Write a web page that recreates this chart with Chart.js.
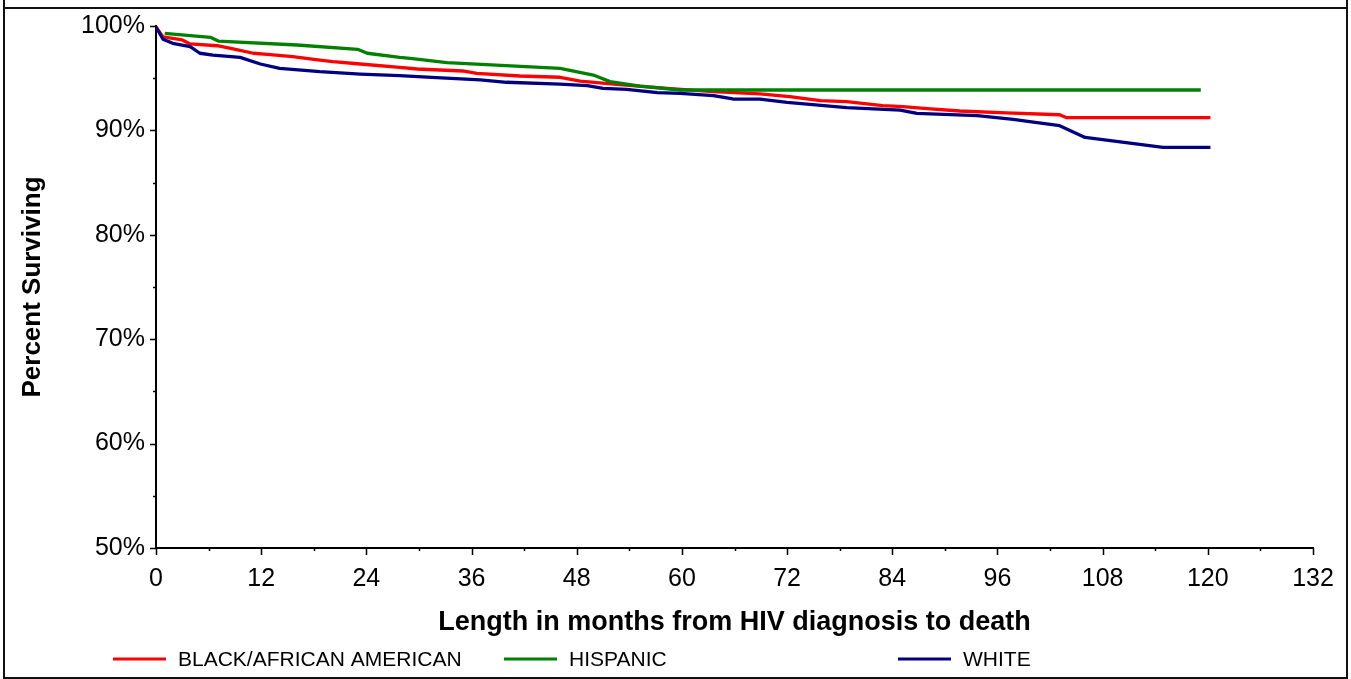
<!DOCTYPE html>
<html>
<head>
<meta charset="utf-8">
<script src="https://cdn.jsdelivr.net/npm/chart.js@4.4.1/dist/chart.umd.min.js"></script>
<style>
  html, body { margin: 0; padding: 0; background: #fff; }
  #wrap { width: 1351px; height: 679px; }
</style>
</head>
<body>
<div id="wrap"><canvas id="kmChart" width="1351" height="679"></canvas></div>
<script>
      const seriesLabels = ['BLACK/AFRICAN AMERICAN', 'HISPANIC', 'WHITE'];
      const seriesColors = ['#ff0000', '#008000', '#000080'];

      const monthsBlack = [0, 0.8, 3.0, 3.9, 7.0, 8.8, 11.1, 12.7, 15.6, 18.7, 20.2, 23.3, 27.8, 29.8, 35, 36.6,
        41.5, 46.1, 48.4, 52.2, 58.3, 63.6, 68.9, 72.3, 75.8, 78.8, 82.9, 85.2, 88, 91.7, 97, 103.1, 103.9, 120.3];
      const survBlack = [99.9, 98.95, 98.66, 98.28, 98.11, 97.8, 97.39, 97.29, 97.06, 96.74, 96.58, 96.36, 96.04, 95.88,
        95.69, 95.47, 95.21, 95.09, 94.73, 94.44, 94.03, 93.71, 93.5, 93.23, 92.85, 92.75, 92.37, 92.27, 92.08, 91.86,
        91.68, 91.5, 91.22, 91.22];

      const monthsHisp = [1.0, 6.2, 7.1, 16.1, 23.0, 24.1, 27.8, 29, 33.2, 46.1, 49.9, 51.8, 55.2, 59.8, 119.2];
      const survHisp = [99.3, 98.92, 98.56, 98.18, 97.77, 97.39, 97.0, 96.9, 96.49, 95.95, 95.3, 94.67, 94.25, 93.87, 93.87];

      const monthsWhite = [0, 0.8, 1.9, 3.9, 5.0, 6.5, 9.6, 11.9, 14.1, 18.7, 23.3, 27.8, 32, 37, 40, 46.1, 49.2, 51,
        53.7, 57.2, 59.8, 63.6, 65.8, 68.9, 72, 74.6, 78.8, 84.9, 86.8, 93.7, 97.8, 100.1, 103.1, 106, 114.9, 120.3];
      const survWhite = [99.9, 98.73, 98.34, 98.02, 97.39, 97.22, 97.0, 96.36, 95.95, 95.62, 95.4, 95.24, 95.05, 94.83,
        94.61, 94.44, 94.28, 94.03, 93.93, 93.61, 93.55, 93.33, 93.01, 93.0, 92.69, 92.5, 92.18, 91.95, 91.64, 91.41,
        91.06, 90.8, 90.45, 89.33, 88.38, 88.38];

      const xMajorTicks = [0, 12, 24, 36, 48, 60, 72, 84, 96, 108, 120, 132];
      const yMajorTicks = [50, 60, 70, 80, 90, 100];

      const FONT = "'Liberation Sans', Arial, sans-serif";

      function toPoints(xs, ys) {
        return xs.map((x, i) => ({ x: x, y: ys[i] }));
      }

      const ctx = document.getElementById('kmChart');

      const chart = new Chart(ctx, {
        type: 'line',
        data: {
          datasets: [
            { label: seriesLabels[0], data: toPoints(monthsBlack, survBlack), borderColor: seriesColors[0], order: 2 },
            { label: seriesLabels[1], data: toPoints(monthsHisp, survHisp), borderColor: seriesColors[1], order: 1 },
            { label: seriesLabels[2], data: toPoints(monthsWhite, survWhite), borderColor: seriesColors[2], order: 0 },
          ],
        },
        options: {
          responsive: false,
          animation: false,
          parsing: false,
          elements: {
            line: { borderWidth: 3.3, tension: 0, fill: false, borderJoinStyle: 'round' },
            point: { radius: 0, hoverRadius: 0 },
          },
          layout: { padding: { top: 26, right: 38, bottom: 0, left: 0 } },
          plugins: {
            legend: { display: false },
            tooltip: { enabled: false },
          },
          scales: {
            x: {
              type: 'linear',
              min: 0,
              max: 132,
              afterFit: (scale) => { scale.height = 131; },
              afterBuildTicks: (scale) => { scale.ticks = xMajorTicks.map((v) => ({ value: v })); },
              grid: { display: false, drawTicks: true, tickLength: 7 },
              border: { display: true, color: '#000', width: 2 },
              ticks: { color: '#000', padding: 9, maxRotation: 0, font: { family: FONT, size: 25 } },
              title: {
                display: true,
                text: 'Length in months from HIV diagnosis to death',
                color: '#000',
                font: { family: FONT, size: 27, weight: 'bold' },
                padding: { top: 0, bottom: 40 },
              },
            },
            y: {
              type: 'linear',
              min: 50,
              max: 100,
              afterFit: (scale) => { scale.width = 156; },
              afterBuildTicks: (scale) => { scale.ticks = yMajorTicks.map((v) => ({ value: v })); },
              grid: { display: false, drawTicks: true, tickLength: 6 },
              border: { display: true, color: '#000', width: 2 },
              ticks: {
                color: '#000',
                padding: 5,
                font: { family: FONT, size: 25 },
                callback: (value) => value + '%',
              },
              title: {
                display: true,
                text: 'Percent Surviving',
                color: '#000',
                font: { family: FONT, size: 26, weight: 'bold' },
                padding: { top: 17, bottom: 0 },
              },
            },
          },
        },
        plugins: [
          {
            id: 'frameAndTicks',
            beforeDraw(chart) {
              const c = chart.ctx;
              c.save();
              c.strokeStyle = '#111';
              c.lineWidth = 2;
              c.beginPath();
              c.moveTo(4, 0); c.lineTo(4, 679);
              c.moveTo(1347, 0); c.lineTo(1347, 679);
              c.moveTo(4, 8); c.lineTo(1347, 8);
              c.moveTo(4, 678); c.lineTo(1347, 678);
              c.stroke();
              c.restore();
            },
            afterDraw(chart) {
              const c = chart.ctx;
              const xs = chart.scales.x;
              const ys = chart.scales.y;
              const area = chart.chartArea;
              c.save();
              c.strokeStyle = '#000';
              c.lineWidth = 1.5;
              c.beginPath();
              // x ticks, major every 12, minor every 6
              for (let m = xs.min; m <= xs.max; m += 6) {
                const px = Math.round(xs.getPixelForValue(m)) + 0.5;
                const len = m % 12 === 0 ? 7 : 3;
                c.moveTo(px, area.bottom);
                c.lineTo(px, area.bottom + len);
              }
              // y ticks, major every 10, minor every 5
              for (let v = ys.min; v <= ys.max; v += 5) {
                const py = Math.round(ys.getPixelForValue(v)) + 0.5;
                const len = v % 10 === 0 ? 6 : 3;
                c.moveTo(area.left, py);
                c.lineTo(area.left - len, py);
              }
              c.stroke();

              // legend
              const legendX = [113, 504, 898];
              const legendY = 659;
              c.font = '21px ' + FONT;
              c.textBaseline = 'middle';
              c.textAlign = 'left';
              chart.data.datasets.forEach((ds, i) => {
                c.strokeStyle = ds.borderColor;
                c.lineWidth = 3;
                c.beginPath();
                c.moveTo(legendX[i], legendY);
                c.lineTo(legendX[i] + 53, legendY);
                c.stroke();
                c.fillStyle = '#000';
                c.fillText(ds.label, legendX[i] + 65, legendY + 1);
              });
              c.restore();
            },
          },
        ],
      });
</script>
</body>
</html>
